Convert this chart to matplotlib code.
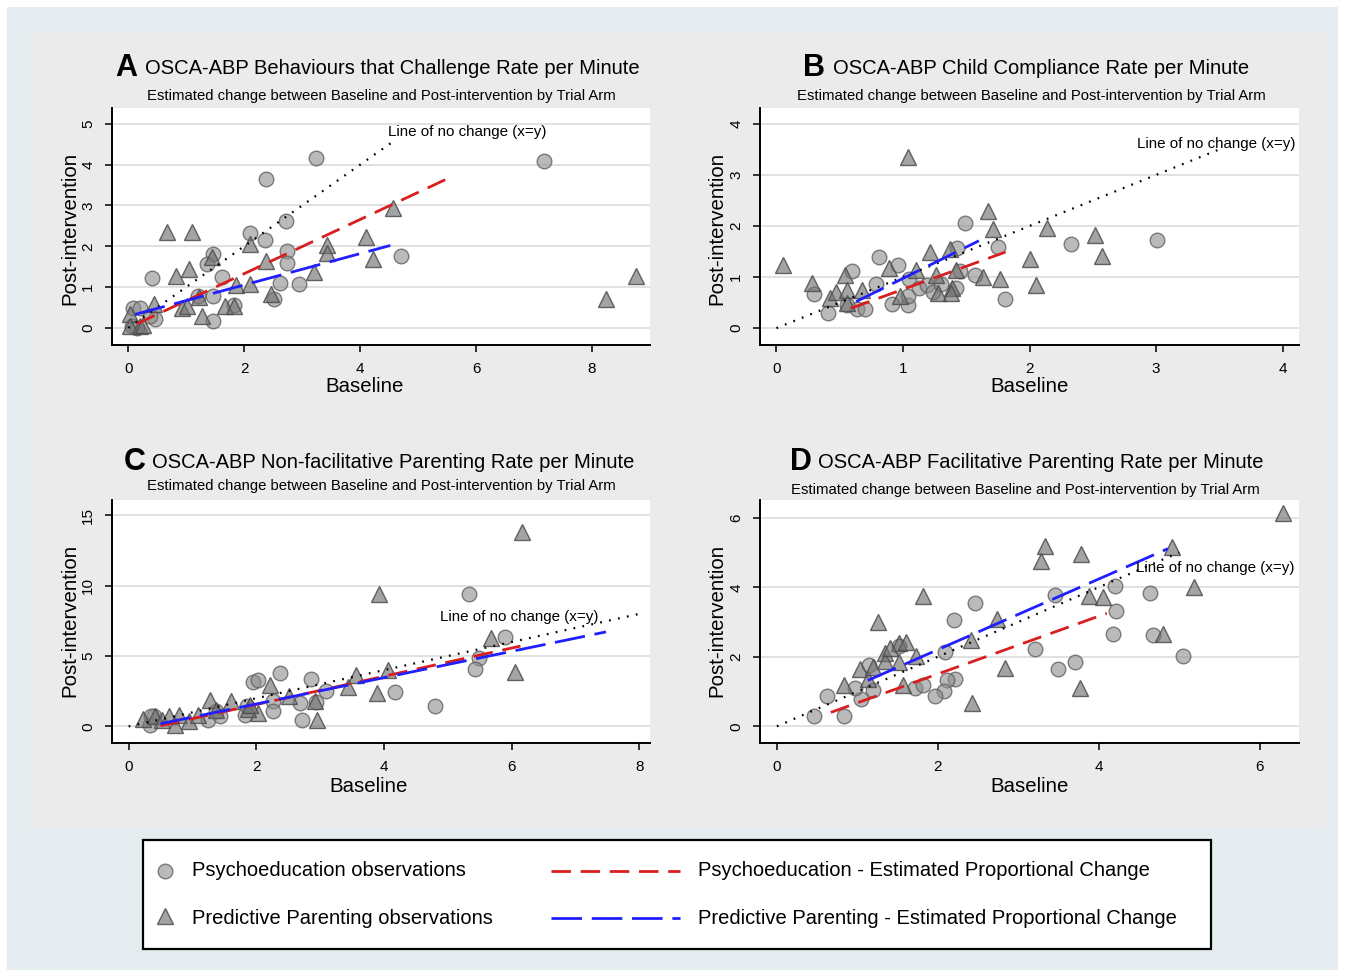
import matplotlib.pyplot as plt
from matplotlib.patches import Rectangle
from matplotlib.lines import Line2D

plt.rcParams['font.family'] = ['Liberation Sans', 'DejaVu Sans']

W, H = 1345, 977

# -------------------
# data (x = Baseline, y = Post-intervention)
# -------------------
# A: Behaviours that Challenge
a_pe_x = [3.24, 2.38, 7.17, 2.72, 2.10, 2.36, 1.47, 1.36, 2.73, 2.74, 1.61, 0.41, 2.62, 2.95,
          4.71, 1.46, 2.51, 1.82, 1.46, 0.08, 0.21, 0.47, 0.38, 0.06, 0.15, 1.20]
a_pe_y = [4.17, 3.66, 4.08, 2.63, 2.32, 2.16, 1.82, 1.56, 1.88, 1.60, 1.24, 1.22, 1.09, 1.08,
          1.75, 0.78, 0.71, 0.56, 0.16, 0.49, 0.49, 0.21, 0.29, 0.04, 0.00, 0.78]
a_pp_x = [0.67, 1.10, 4.56, 4.10, 3.43, 3.43, 4.22, 2.10, 1.44, 2.38, 1.04, 0.82, 3.20, 1.86, 2.10,
          2.47, 1.67, 1.83, 0.92, 1.02, 1.27, 1.22, 0.44, 0.03, 0.03, 0.21, 0.26, 8.24, 8.76]
a_pp_y = [2.36, 2.36, 2.93, 2.22, 2.03, 1.83, 1.70, 2.05, 1.73, 1.64, 1.45, 1.27, 1.37, 1.04, 1.07,
          0.82, 0.53, 0.53, 0.49, 0.53, 0.30, 0.76, 0.58, 0.33, 0.04, 0.04, 0.08, 0.71, 1.28]
a_fit_pe = ([0.15, 5.48], [0.10, 3.64])
a_fit_pp = ([0.12, 4.52], [0.33, 2.02])
a_noline = [0, 4.6]

# B: Child Compliance
b_pe_x = [1.49, 1.75, 0.81, 0.96, 0.60, 0.79, 0.30, 0.41, 0.64, 0.70, 0.91, 1.04, 1.04, 1.05,
          1.13, 1.19, 1.24, 1.30, 1.42, 1.45, 1.43, 1.57, 1.81, 2.33, 3.01, 0.56]
b_pe_y = [2.05, 1.58, 1.40, 1.24, 1.11, 0.86, 0.67, 0.29, 0.38, 0.38, 0.48, 0.46, 0.63, 0.97,
          0.78, 0.84, 0.70, 0.86, 0.78, 1.11, 1.57, 1.05, 0.58, 1.65, 1.73, 0.46]
b_pp_x = [1.04, 0.05, 0.28, 0.42, 0.47, 0.54, 0.56, 0.56, 0.68, 0.89, 0.98, 1.10, 1.21, 1.26,
          1.28, 1.37, 1.39, 1.42, 1.63, 1.67, 1.71, 1.77, 2.00, 2.05, 2.14, 2.52, 2.57, 1.38]
b_pp_y = [3.35, 1.23, 0.88, 0.59, 0.71, 1.04, 0.75, 0.49, 0.75, 1.17, 0.62, 1.14, 1.49, 1.04,
          0.68, 1.55, 0.78, 1.14, 1.00, 2.29, 1.95, 0.97, 1.35, 0.85, 1.97, 1.83, 1.42, 0.68]
b_fit_pe = ([0.59, 1.81], [0.39, 1.49])
b_fit_pp = ([0.63, 1.60], [0.52, 1.71])
b_noline = [0, 3.5]

# C: Non-facilitative Parenting
c_pe_x = [5.34, 5.90, 5.49, 5.43, 2.38, 1.95, 2.03, 2.86, 3.09, 4.17, 2.94, 2.69, 2.27, 2.26,
          2.72, 4.80, 0.33, 0.40, 1.24, 1.37, 1.43, 1.82, 1.85, 0.35]
c_pe_y = [9.39, 6.37, 4.88, 4.06, 3.82, 3.15, 3.32, 3.35, 2.52, 2.48, 1.76, 1.70, 1.78, 1.07,
          0.44, 1.46, 0.10, 0.73, 0.49, 1.07, 0.72, 0.84, 1.43, 0.75]
c_pp_x = [6.17, 3.92, 5.68, 6.05, 4.06, 3.56, 3.44, 3.89, 2.22, 2.92, 2.95, 2.03, 1.27, 1.61,
          0.22, 0.41, 0.53, 0.63, 0.72, 0.79, 0.95, 1.08, 1.37, 1.87, 1.90, 2.51]
c_pp_y = [13.8, 9.39, 6.32, 3.89, 4.01, 3.64, 2.80, 2.36, 2.94, 1.78, 0.49, 0.93, 1.85, 1.78,
          0.55, 0.71, 0.49, 0.72, 0.13, 0.84, 0.40, 0.80, 1.18, 1.25, 1.53, 2.13]
c_fit_pe = ([0.50, 6.14], [0.05, 5.71])
c_fit_pp = ([0.50, 7.48], [0.19, 6.72])
c_noline = [0, 8]

# D: Facilitative Parenting
d_pe_x = [3.46, 2.46, 2.20, 4.20, 4.64, 4.21, 4.18, 4.67, 5.05, 3.21, 3.50, 3.70, 2.09, 2.21,
          2.11, 2.08, 1.97, 1.72, 1.82, 1.20, 1.05, 0.97, 0.62, 0.46, 0.84, 1.52, 1.15]
d_pe_y = [3.77, 3.56, 3.06, 4.04, 3.84, 3.32, 2.66, 2.63, 2.02, 2.23, 1.65, 1.86, 2.15, 1.36,
          1.32, 1.03, 0.88, 1.10, 1.19, 1.05, 0.79, 1.10, 0.88, 0.31, 0.31, 2.30, 1.75]
d_pp_x = [6.29, 3.33, 3.28, 3.78, 4.91, 5.19, 3.88, 4.05, 1.82, 1.26, 2.74, 2.41, 2.83, 2.42,
          3.77, 4.80, 1.73, 1.57, 0.84, 1.03, 1.13, 1.20, 1.35, 1.35, 1.52, 1.60, 1.52, 1.40]
d_pp_y = [6.13, 5.18, 4.76, 4.97, 5.16, 4.01, 3.74, 3.71, 3.74, 3.01, 3.08, 2.48, 1.67, 0.67,
          1.10, 2.66, 2.02, 1.19, 1.19, 1.64, 1.36, 1.72, 2.10, 1.89, 2.39, 2.42, 1.86, 2.25]
d_fit_pe = ([0.67, 4.10], [0.40, 3.25])
d_fit_pp = ([1.13, 4.86], [1.32, 5.11])
d_noline = [0, 5]

letters = ['A', 'B', 'C', 'D']
titles = ['OSCA-ABP Behaviours that Challenge Rate per Minute',
          'OSCA-ABP Child Compliance Rate per Minute',
          'OSCA-ABP Non-facilitative Parenting Rate per Minute',
          'OSCA-ABP Facilitative Parenting Rate per Minute']
subtitle = 'Estimated change between Baseline and Post-intervention by Trial Arm'
xticks = [[0, 2, 4, 6, 8], [0, 1, 2, 3, 4], [0, 2, 4, 6, 8], [0, 2, 4, 6]]
yticks = [[0, 1, 2, 3, 4, 5], [0, 1, 2, 3, 4], [0, 5, 10, 15], [0, 2, 4, 6]]
legend_labels = ['Psychoeducation observations', 'Predictive Parenting observations',
                 'Psychoeducation - Estimated Proportional Change',
                 'Predictive Parenting - Estimated Proportional Change']

panels = [
    (a_pe_x, a_pe_y, a_pp_x, a_pp_y, a_fit_pe, a_fit_pp, a_noline),
    (b_pe_x, b_pe_y, b_pp_x, b_pp_y, b_fit_pe, b_fit_pp, b_noline),
    (c_pe_x, c_pe_y, c_pp_x, c_pp_y, c_fit_pe, c_fit_pp, c_noline),
    (d_pe_x, d_pe_y, d_pp_x, d_pp_y, d_fit_pe, d_fit_pp, d_noline),
]

# -------------------
# layout (pixels of the 1345x977 picture)
# -------------------
boxes = [(112, 650, 108, 345), (760, 1299, 108, 345), (112, 650, 500, 743), (760, 1299, 500, 743)]
xlims = [(-0.28, 9.0), (-0.13, 4.13), (-0.26, 8.17), (-0.21, 6.49)]
ylims = [(-0.42, 5.39), (-0.33, 4.31), (-1.18, 16.1), (-0.48, 6.51)]
letter_pos = [(115, 68), (803, 68), (124, 462), (790, 462)]
title_pos = [(145, 69), (833, 69), (152, 463), (818, 463)]
sub_pos = [(381, 96), (1031, 96), (381, 486), (1025, 490)]
ylab_pos = [(70, 228), (717, 228), (70, 620), (717, 620)]
xlab_pos = [(365, 387), (1030, 387), (369, 786), (1030, 786)]
note_pos = [(4.48, 4.8), (2.85, 3.61), (4.88, 7.78), (4.47, 4.54)]


def fx(x):
    return x / W


def fy(y):
    return 1 - y / H


pe_style = dict(linestyle='none', marker='o', markersize=10.5,
                markerfacecolor=(0.55, 0.55, 0.55, 0.6), markeredgecolor=(0.38, 0.38, 0.38, 0.8),
                markeredgewidth=1.0)
pp_style = dict(linestyle='none', marker='^', markersize=12,
                markerfacecolor=(0.45, 0.45, 0.45, 0.65), markeredgecolor=(0.3, 0.3, 0.3, 0.85),
                markeredgewidth=1.0)
red_style = dict(color='#d81e1e', linewidth=2.0, dashes=(7, 3.5))
blue_style = dict(color='#1f1fff', linewidth=2.0, dashes=(11, 3.5))
dot_style = dict(color='black', linewidth=1.6, linestyle=(0, (0.8, 3.3)))

fig = plt.figure(figsize=(W / 100, H / 100), dpi=100)
fig.patches.append(Rectangle((fx(7), fy(970)), fx(1331), (963) / H, transform=fig.transFigure,
                             facecolor='#e5ecef', edgecolor='none', zorder=-10))
fig.patches.append(Rectangle((fx(30), fy(827)), fx(1295), (795) / H, transform=fig.transFigure,
                             facecolor='#ebebeb', edgecolor='none', zorder=-9))

for i, (pex, pey, ppx, ppy, fpe, fpp, nol) in enumerate(panels):
    l, r, t, b = boxes[i]
    ax = fig.add_axes([fx(l), fy(b), (r - l) / W, (b - t) / H])
    ax.set_facecolor('white')
    ax.plot(pex, pey, zorder=3, **pe_style)
    ax.plot(ppx, ppy, zorder=3, **pp_style)
    ax.plot(nol, nol, zorder=4, **dot_style)
    ax.plot(fpe[0], fpe[1], zorder=5, **red_style)
    ax.plot(fpp[0], fpp[1], zorder=5, **blue_style)
    ax.text(note_pos[i][0], note_pos[i][1], 'Line of no change (x=y)', fontsize=10.9,
            ha='left', va='center', zorder=6)

    ax.set_xlim(xlims[i])
    ax.set_ylim(ylims[i])
    ax.set_xticks(xticks[i])
    ax.set_yticks(yticks[i])
    ax.grid(axis='y', color='#dedede', linewidth=1.3, zorder=0)
    ax.set_axisbelow(True)
    for s in ['top', 'right']:
        ax.spines[s].set_visible(False)
    for s in ['left', 'bottom']:
        ax.spines[s].set_linewidth(1.4)
    ax.tick_params(direction='out', length=5, width=1.1, labelsize=11, pad=7)
    for lab in ax.get_yticklabels():
        lab.set_rotation(90)
        lab.set_va('center')

    # titles and axis labels
    fig.text(fx(letter_pos[i][0]), fy(letter_pos[i][1]), letters[i], fontsize=22,
             fontweight='bold', ha='left', va='center')
    fig.text(fx(title_pos[i][0]), fy(title_pos[i][1]), titles[i], fontsize=14.5,
             ha='left', va='center')
    fig.text(fx(sub_pos[i][0]), fy(sub_pos[i][1]), subtitle, fontsize=10.7,
             ha='center', va='center')
    fig.text(fx(ylab_pos[i][0]), fy(ylab_pos[i][1]), 'Post-intervention', fontsize=14.7,
             rotation=90, ha='center', va='center')
    fig.text(fx(xlab_pos[i][0]), fy(xlab_pos[i][1]), 'Baseline', fontsize=14.7,
             ha='center', va='center')

# -------------------
# legend box at the bottom
# -------------------
fig.patches.append(Rectangle((fx(143), fy(949)), 1068 / W, 109 / H, transform=fig.transFigure,
                             facecolor='white', edgecolor='black', linewidth=1.6, zorder=1))
fig.add_artist(Line2D([fx(165)], [fy(871)], zorder=3, **pe_style))
fig.add_artist(Line2D([fx(165)], [fy(916)], zorder=3, **pp_style))
fig.add_artist(Line2D([fx(551), fx(680)], [fy(871), fy(871)], zorder=3, **red_style))
fig.add_artist(Line2D([fx(551), fx(680)], [fy(918), fy(918)], zorder=3, **blue_style))
fig.text(fx(192), fy(871), legend_labels[0], fontsize=14.5, ha='left', va='center', zorder=4)
fig.text(fx(192), fy(918), legend_labels[1], fontsize=14.5, ha='left', va='center', zorder=4)
fig.text(fx(698), fy(871), legend_labels[2], fontsize=14.5, ha='left', va='center', zorder=4)
fig.text(fx(698), fy(918), legend_labels[3], fontsize=14.5, ha='left', va='center', zorder=4)

plt.savefig('out.png', dpi=100)
